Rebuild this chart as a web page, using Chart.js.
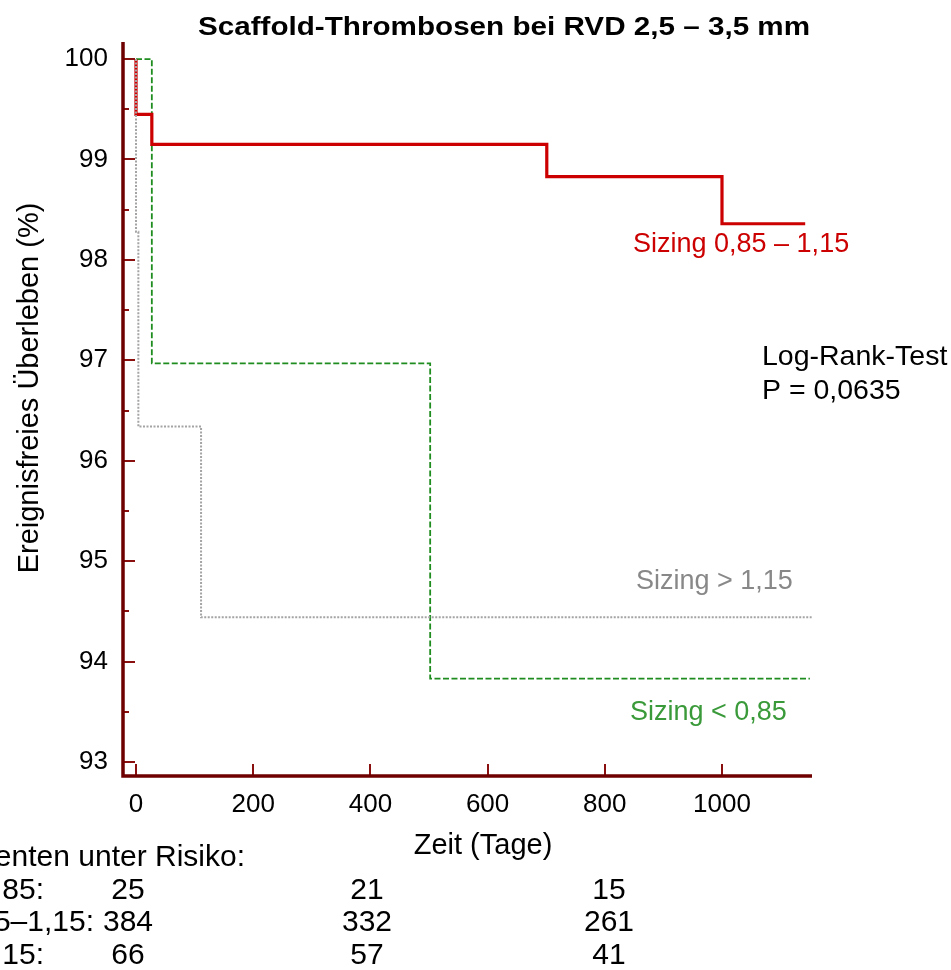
<!DOCTYPE html>
<html>
<head>
<meta charset="utf-8">
<script src="https://cdn.jsdelivr.net/npm/chart.js@4.4.1/dist/chart.umd.min.js"></script>
<style>
  html, body { margin: 0; padding: 0; background: #ffffff; }
  #wrap { position: relative; width: 951px; height: 970px; }
</style>
</head>
<body>
<div id="wrap"><canvas id="c" width="951" height="970"></canvas></div>
<script>
// ---------- data ----------
const chartTitle = "Scaffold-Thrombosen bei RVD 2,5 – 3,5 mm";
const xAxisTitle = "Zeit (Tage)";
const yAxisTitle = "Ereignisfreies Überleben (%)";

const xTickValues = [0, 200, 400, 600, 800, 1000];
const yTickValues = [93, 93.5, 94, 94.5, 95, 95.5, 96, 96.5, 97, 97.5, 98, 98.5, 99, 99.5, 100];

// Sizing 0,85 – 1,15 (red)
const midTimes  = [0, 0, 27, 701, 1000, 1142];
const midSurv   = [100, 99.45, 99.15, 98.83, 98.36, 98.36];
// Sizing < 0,85 (green)
const lowTimes  = [0, 27, 502, 1150];
const lowSurv   = [100, 96.97, 93.83, 93.83];
// Sizing > 1,15 (gray)
const highTimes = [0, 0, 4, 111, 1153];
const highSurv  = [100, 98.28, 96.34, 94.44, 94.44];

const seriesLabels = ["Sizing 0,85 – 1,15", "Sizing < 0,85", "Sizing > 1,15"];
const logRankLines = ["Log-Rank-Test", "P = 0,0635"];

const riskTitle = "Patienten unter Risiko:";
const riskGroups = ["Sizing < 0,85:", "Sizing 0,85–1,15:", "Sizing > 1,15:"];
const riskTimes = [0, 400, 800];
const riskLow  = [25, 21, 15];
const riskMid  = [384, 332, 261];
const riskHigh = [66, 57, 41];

// ---------- styles / layout ----------
const FONT = "'Liberation Sans', Arial, Helvetica, sans-serif";
const RED = "#cc0000", GREEN = "#1e8c1e", GRAY = "#a4a4a4";
const AXIS = "#6e0000", TICK = "#8a1010";
const PLOT = { left: 123, right: 812, top: 42, bottom: 776 };

function pts(xs, ys) { return xs.map((x, i) => ({ x: x, y: ys[i] })); }

function stretchedText(ctx, text, x, y, sx) {
  ctx.save();
  ctx.translate(x, y);
  ctx.scale(sx, 1);
  ctx.fillText(text, 0, 0);
  ctx.restore();
}

const decorPlugin = {
  id: 'decor',
  afterDatasetsDraw(chart) {
    const ctx = chart.ctx;
    const xs = chart.scales.x, ys = chart.scales.y;
    const a = chart.chartArea;
    ctx.save();
    // ticks (inward)
    ctx.strokeStyle = TICK;
    ctx.lineWidth = 2;
    yTickValues.forEach(v => {
      const y = Math.round(ys.getPixelForValue(v));
      const len = Number.isInteger(v) ? 12 : 6;
      ctx.beginPath(); ctx.moveTo(a.left, y); ctx.lineTo(a.left + len, y); ctx.stroke();
    });
    xTickValues.forEach(v => {
      const x = Math.round(xs.getPixelForValue(v));
      ctx.beginPath(); ctx.moveTo(x, a.bottom); ctx.lineTo(x, a.bottom - 12); ctx.stroke();
    });
    // axis lines
    ctx.strokeStyle = AXIS;
    ctx.lineWidth = 3.5;
    ctx.beginPath();
    ctx.moveTo(a.left, a.top);
    ctx.lineTo(a.left, a.bottom);
    ctx.lineTo(a.right, a.bottom);
    ctx.stroke();
    ctx.restore();
  },
  afterDraw(chart) {
    const ctx = chart.ctx;
    ctx.save();
    ctx.textBaseline = 'middle';
    // title
    ctx.fillStyle = '#000';
    ctx.font = "bold 26px " + FONT;
    ctx.textAlign = 'center';
    stretchedText(ctx, chartTitle, 504, 28, 1.14);
    // y axis title
    ctx.save();
    ctx.translate(30, 388);
    ctx.rotate(-Math.PI / 2);
    ctx.font = "29px " + FONT;
    ctx.fillText(yAxisTitle, 0, 0);
    ctx.restore();
    // x axis title
    ctx.font = "29px " + FONT;
    ctx.fillText(xAxisTitle, 483, 846);
    // series labels
    ctx.textAlign = 'left';
    ctx.font = "27px " + FONT;
    ctx.fillStyle = RED;   ctx.fillText(seriesLabels[0], 633, 245);
    ctx.fillStyle = "#888888"; ctx.fillText(seriesLabels[2], 636, 582);
    ctx.fillStyle = "#3a9a3a"; ctx.fillText(seriesLabels[1], 630, 713);
    ctx.fillStyle = '#000';
    ctx.font = "28.5px " + FONT;
    ctx.fillText(logRankLines[0], 762, 357);
    ctx.fillText(logRankLines[1], 762, 391);
    // risk table
    ctx.font = "30px " + FONT;
    ctx.textAlign = 'right';
    ctx.fillText(riskTitle, 245, 858);
    const rowY = [891, 923, 956];
    const rowLabelRight = [44, 94, 44];
    const colX = [128, 367, 609];
    const rows = [riskLow, riskMid, riskHigh];
    rows.forEach((r, i) => {
      ctx.textAlign = 'right';
      ctx.fillText(riskGroups[i], rowLabelRight[i], rowY[i]);
      ctx.textAlign = 'center';
      r.forEach((v, j) => ctx.fillText(String(v), colX[j], rowY[i]));
    });
    ctx.restore();
  }
};

new Chart(document.getElementById('c'), {
  type: 'line',
  data: {
    datasets: [
      { label: seriesLabels[2], data: pts(highTimes, highSurv), borderColor: GRAY, borderWidth: 2,
        borderDash: [2, 1.5], stepped: 'before', pointRadius: 0, fill: false, order: 0 },
      { label: seriesLabels[0], data: pts(midTimes, midSurv), borderColor: RED, borderWidth: 3.2,
        stepped: 'before', pointRadius: 0, fill: false, order: 1 },
      { label: seriesLabels[1], data: pts(lowTimes, lowSurv), borderColor: GREEN, borderWidth: 1.8,
        borderDash: [6, 2.5], stepped: 'before', pointRadius: 0, fill: false, order: 2 }
    ]
  },
  options: {
    responsive: false,
    animation: false,
    events: [],
    layout: { padding: { left: 0, top: PLOT.top, right: 951 - PLOT.right, bottom: 0 } },
    plugins: { legend: { display: false }, tooltip: { enabled: false }, title: { display: false } },
    scales: {
      x: {
        type: 'linear', min: -22.2, max: 1153.6,
        grid: { display: false, drawTicks: false },
        border: { display: false },
        afterBuildTicks: s => { s.ticks = xTickValues.map(v => ({ value: v })); },
        afterFit: s => { s.height = 970 - PLOT.bottom; },
        ticks: { autoSkip: false, maxRotation: 0, padding: 13, color: '#000',
                 font: { family: FONT, size: 26 },
                 callback: v => String(v) }
      },
      y: {
        type: 'linear', min: 92.86, max: 100.17,
        grid: { display: false, drawTicks: false },
        border: { display: false },
        afterBuildTicks: s => { s.ticks = yTickValues.map(v => ({ value: v })); },
        afterFit: s => { s.width = PLOT.left; },
        ticks: { autoSkip: false, padding: 15, color: '#000',
                 font: { family: FONT, size: 26 },
                 callback: v => Number.isInteger(v) ? String(v) : '' }
      }
    }
  },
  plugins: [decorPlugin]
});
</script>
</body>
</html>
